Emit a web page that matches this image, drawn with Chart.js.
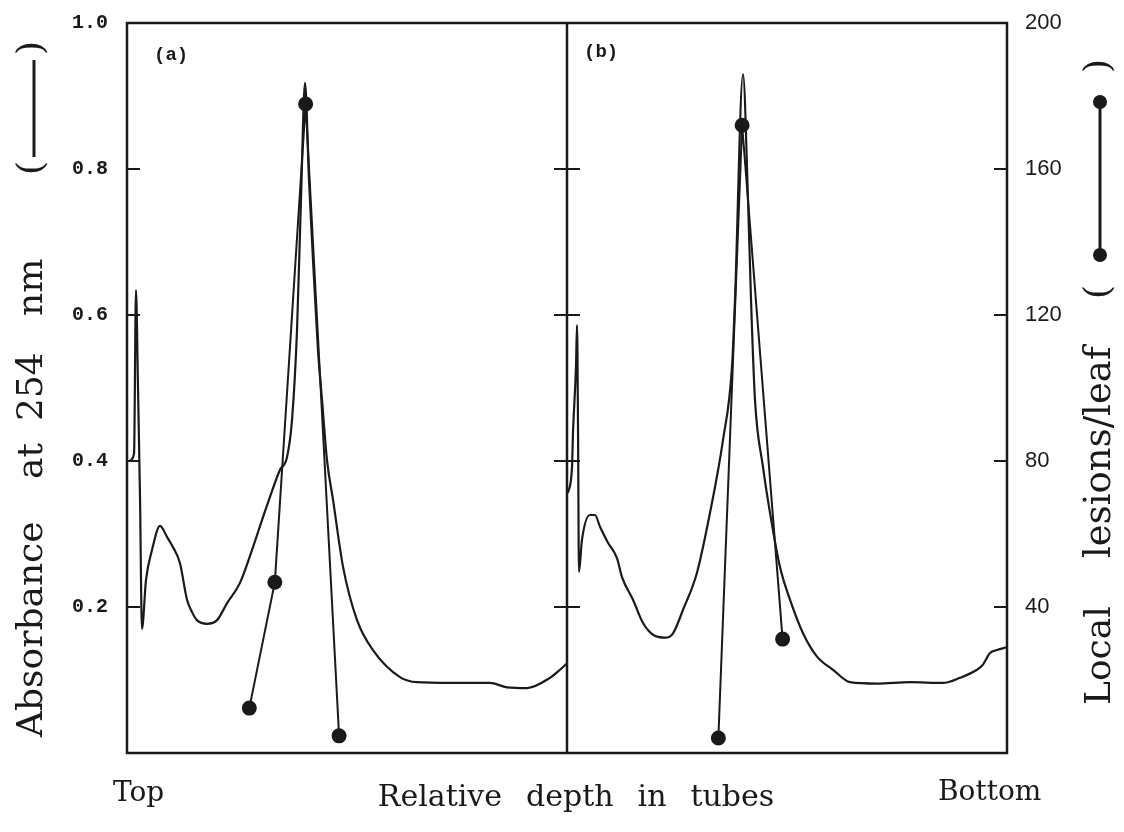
<!DOCTYPE html>
<html>
<head>
<meta charset="utf-8">
<script src="https://cdn.jsdelivr.net/npm/chart.js@4.4.0/dist/chart.umd.min.js"></script>
<style>
html, body { margin: 0; padding: 0; background: #fff; }
</style>
</head>
<body>
<canvas id="grafico" width="1124" height="832"></canvas>
<script>
// --- DATA (relative depth 0-100 across both tubes, (a) = 0-50, (b) = 50-100) ---
const depthA = [0.23, 0.80, 1.02, 1.25, 1.48, 1.70, 2.16, 2.84, 3.75, 4.55, 5.23, 6.02, 6.82, 7.39, 7.95, 9.09, 10.23, 11.36, 12.84, 14.32, 15.34, 16.25, 17.39, 18.18, 18.75, 19.32, 19.77, 20.23, 20.68, 21.14, 21.70, 22.16, 22.73, 23.41, 24.55, 26.14, 27.95, 31.02, 32.95, 36.70, 41.25, 43.18, 45.45, 48.07, 49.20, 50.0];
const absA   = [0.400, 0.410, 0.634, 0.500, 0.350, 0.170, 0.237, 0.278, 0.311, 0.296, 0.282, 0.260, 0.210, 0.193, 0.182, 0.177, 0.182, 0.205, 0.233, 0.282, 0.319, 0.351, 0.388, 0.405, 0.456, 0.579, 0.758, 0.918, 0.785, 0.675, 0.552, 0.484, 0.401, 0.347, 0.255, 0.182, 0.141, 0.104, 0.097, 0.096, 0.096, 0.090, 0.089, 0.103, 0.114, 0.123];

const depthB = [50.11, 50.57, 50.68, 51.02, 51.14, 51.25, 51.36, 51.70, 52.61, 53.18, 53.75, 54.66, 55.68, 56.25, 57.50, 58.64, 59.77, 61.14, 62.05, 63.18, 64.77, 66.25, 67.73, 68.75, 69.09, 70.00, 70.57, 70.91, 71.36, 72.27, 73.07, 74.20, 75.34, 76.82, 78.41, 80.23, 82.16, 85.23, 88.98, 92.73, 94.66, 96.59, 97.27, 98.07, 98.86, 100.0];
const absB   = [0.356, 0.392, 0.438, 0.529, 0.586, 0.450, 0.248, 0.292, 0.326, 0.326, 0.310, 0.288, 0.267, 0.241, 0.210, 0.178, 0.162, 0.158, 0.164, 0.196, 0.247, 0.329, 0.429, 0.529, 0.621, 0.930, 0.758, 0.621, 0.484, 0.392, 0.329, 0.255, 0.210, 0.164, 0.132, 0.114, 0.097, 0.095, 0.097, 0.096, 0.103, 0.114, 0.121, 0.137, 0.141, 0.145];

const lesionDepthA = [13.9, 16.8, 20.3, 24.1];
const lesionsA     = [12.3, 46.8, 177.8, 4.7];
const lesionDepthB = [67.2, 69.9, 74.5];
const lesionsB     = [4.1, 172, 31.2];

const absTicks = [0.2, 0.4, 0.6, 0.8, 1.0];
const lesionTicks = [40, 80, 120, 160, 200];

const INK = '#1a1a1a';
const pares = (xs, ys) => xs.map((x, i) => ({ x: x, y: ys[i] }));

function textoVertical(ctx, txt, x, y, font) {
    ctx.save();
    ctx.translate(x, y);
    ctx.rotate(-Math.PI / 2);
    ctx.font = font;
    ctx.textAlign = 'left';
    ctx.textBaseline = 'alphabetic';
    ctx.fillText(txt, 0, 0);
    ctx.restore();
}

function parenVertical(ctx, txt, x, y) {
    ctx.save();
    ctx.translate(x, y);
    ctx.rotate(-Math.PI / 2);
    ctx.font = '36px "DejaVu Serif"';
    ctx.textAlign = 'center';
    ctx.textBaseline = 'middle';
    ctx.fillText(txt, 0, 0);
    ctx.restore();
}

// keep axis width fixed and stop the tick labels from pushing the frame down
function fixarEixo(largura) {
    return s => {
        s.width = largura;
        s.paddingTop = 0;
        s.paddingBottom = 0;
    };
}

// frame, divider, inner ticks and all the labels
const moldura = {
    id: 'moldura',
    afterDatasetsDraw(chart) {
        const ctx = chart.ctx;
        const a = chart.chartArea;
        const y = chart.scales.y, y2 = chart.scales.y2, x = chart.scales.x;
        const meio = x.getPixelForValue(50);
        ctx.save();
        ctx.strokeStyle = INK;
        ctx.lineWidth = 2.5;
        ctx.strokeRect(a.left, a.top, a.right - a.left, a.bottom - a.top);
        ctx.beginPath();
        ctx.moveTo(meio, a.top);
        ctx.lineTo(meio, a.bottom);
        ctx.stroke();

        ctx.lineWidth = 2;
        ctx.beginPath();
        absTicks.filter(v => v < 1).forEach(v => {
            const py = y.getPixelForValue(v);
            ctx.moveTo(a.left, py); ctx.lineTo(a.left + 13, py);
            ctx.moveTo(meio - 13, py); ctx.lineTo(meio + 13, py);
        });
        lesionTicks.filter(v => v < 200).forEach(v => {
            const py = y2.getPixelForValue(v);
            ctx.moveTo(a.right - 13, py); ctx.lineTo(a.right, py);
        });
        ctx.stroke();
        ctx.restore();
    },
    afterDraw(chart) {
        const ctx = chart.ctx;
        ctx.save();
        ctx.fillStyle = INK;
        ctx.strokeStyle = INK;

        // panel labels
        ctx.font = 'bold 19px "Liberation Mono"';
        ctx.textBaseline = 'middle';
        ctx.textAlign = 'left';
        ctx.fillText('(a)', 154, 55);
        ctx.fillText('(b)', 584, 52);

        // left title + legend
        const serif = '36px "DejaVu Serif"';
        textoVertical(ctx, 'Absorbance', 42, 737, serif);
        textoVertical(ctx, 'at', 42, 479, serif);
        textoVertical(ctx, '254', 42, 421, serif);
        textoVertical(ctx, 'nm', 42, 316, serif);
        parenVertical(ctx, '(', 33, 168);
        parenVertical(ctx, ')', 33, 48);
        ctx.lineWidth = 3;
        ctx.beginPath();
        ctx.moveTo(34, 60); ctx.lineTo(34, 157);
        ctx.stroke();

        // right title + legend
        textoVertical(ctx, 'Local', 1110, 705, serif);
        textoVertical(ctx, 'lesions/leaf', 1110, 558, '37px "DejaVu Serif"');
        parenVertical(ctx, '(', 1100, 292);
        parenVertical(ctx, ')', 1100, 66);
        ctx.lineWidth = 3;
        ctx.beginPath();
        ctx.moveTo(1100, 102); ctx.lineTo(1100, 255);
        ctx.stroke();
        [102, 255].forEach(cy => {
            ctx.beginPath();
            ctx.arc(1100, cy, 7, 0, Math.PI * 2);
            ctx.fill();
        });

        // bottom labels
        ctx.textBaseline = 'alphabetic';
        ctx.font = '28px "DejaVu Serif"';
        ctx.textAlign = 'left';
        ctx.fillText('Top', 113, 801);
        ctx.fillText('Bottom', 938, 800);
        ctx.font = '30px "DejaVu Serif"';
        const palavras = ['Relative', 'depth', 'in', 'tubes'];
        const gap = 24;
        const larg = palavras.reduce((s, p) => s + ctx.measureText(p).width, 0) + gap * (palavras.length - 1);
        let px = 576 - larg / 2;
        palavras.forEach(p => {
            ctx.fillText(p, px, 806);
            px += ctx.measureText(p).width + gap;
        });
        ctx.restore();
    }
};

const ctx = document.getElementById('grafico').getContext('2d');
new Chart(ctx, {
    type: 'line',
    data: {
        datasets: [
            { data: pares(depthA, absA), yAxisID: 'y', borderColor: INK, borderWidth: 2.2, pointRadius: 0, cubicInterpolationMode: 'monotone' },
            { data: pares(depthB, absB), yAxisID: 'y', borderColor: INK, borderWidth: 2.2, pointRadius: 0, cubicInterpolationMode: 'monotone' },
            { data: pares(lesionDepthA, lesionsA), yAxisID: 'y2', borderColor: INK, borderWidth: 2, pointRadius: 6.5, pointBackgroundColor: INK, pointBorderColor: INK, tension: 0 },
            { data: pares(lesionDepthB, lesionsB), yAxisID: 'y2', borderColor: INK, borderWidth: 2, pointRadius: 6.5, pointBackgroundColor: INK, pointBorderColor: INK, tension: 0 }
        ]
    },
    options: {
        responsive: false,
        animation: false,
        events: [],
        layout: { padding: { left: 0, right: 0, top: 23, bottom: 79 } },
        plugins: { legend: { display: false }, tooltip: { enabled: false } },
        scales: {
            x: { type: 'linear', min: 0, max: 100, display: false },
            y: {
                position: 'left', min: 0, max: 1,
                afterBuildTicks: s => { s.ticks = absTicks.map(v => ({ value: v })); },
                afterFit: fixarEixo(127),
                grid: { display: false, drawTicks: false },
                border: { display: false },
                ticks: { padding: 19, color: INK, font: { family: 'Liberation Mono', size: 20, weight: 'bold' }, callback: v => v.toFixed(1) }
            },
            y2: {
                position: 'right', min: 0, max: 200,
                afterBuildTicks: s => { s.ticks = lesionTicks.map(v => ({ value: v })); },
                afterFit: fixarEixo(117),
                grid: { display: false, drawTicks: false },
                border: { display: false },
                ticks: { padding: 18, color: INK, font: { family: 'Liberation Sans', size: 22 } }
            }
        }
    },
    plugins: [moldura]
});
</script>
</body>
</html>
